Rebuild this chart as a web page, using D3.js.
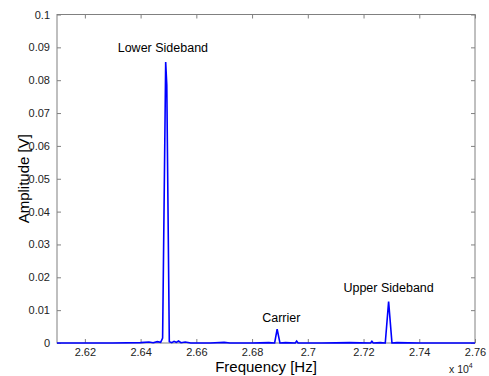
<!DOCTYPE html>
<html><head><meta charset="utf-8">
<script src="https://cdn.jsdelivr.net/npm/d3@7"></script>
<style>
body{margin:0;background:#fff;}
text{font-family:"Liberation Sans",Arial,sans-serif;}
</style></head>
<body><svg id="c" width="489" height="376"></svg>
<script>
const freq = [26100,26300,26400,26430,26445,26460,26472,26479,26490,26494,26503,26512,26520,26528,26536,26545,26560,26580,26650,26700,26720,26800,26860,26881,26890,26900,26920,26955,26960,26965,27050,27150,27225,27230,27235,27260,27278,27290,27302,27320,27400,27500,27600];
const amp  = [0,0,0.0001,0.0003,0.0001,0.0004,0.0002,0.0015,0.0855,0.0785,0.0004,0.0001,0.0005,0.0002,0.0006,0.0001,0.0003,0,0,0.0002,0,0,0.0001,0,0.0042,0,0.0001,0,0.0006,0,0,0.0001,0,0.0005,0,0.0001,0,0.0126,0,0.0001,0,0,0];
const xTicks = [26200,26400,26600,26800,27000,27200,27400,27600];
const xTickLabels = ["2.62","2.64","2.66","2.68","2.7","2.72","2.74","2.76"];
const yTicks = [0,0.01,0.02,0.03,0.04,0.05,0.06,0.07,0.08,0.09,0.1];
const yTickLabels = ["0","0.01","0.02","0.03","0.04","0.05","0.06","0.07","0.08","0.09","0.1"];
const annotations = [
  {text:"Lower Sideband", f:26480, a:0.0855},
  {text:"Carrier", f:26905, a:0.0042},
  {text:"Upper Sideband", f:27290, a:0.0126}
];

const L=57, R=475, T=14.5, B=343;
const svg = d3.select("#c");
const x = d3.scaleLinear().domain([26100,27600]).range([L,R]);
const y = d3.scaleLinear().domain([0,0.1]).range([B,T]);
const axisCol = "#808080";

svg.append("rect").attr("x",L).attr("y",T).attr("width",R-L).attr("height",B-T)
  .attr("fill","#fff").attr("stroke",axisCol).attr("stroke-width",1);

const fmtX = d => xTickLabels[xTicks.indexOf(d)];
const fmtY = d => yTickLabels[yTicks.indexOf(d)];

const styleAxis = g => {
  g.select(".domain").remove();
  g.selectAll(".tick line").attr("stroke",axisCol);
  g.selectAll(".tick text").attr("fill","#222").style("font-size","11px").style("font-family","'Liberation Sans',Arial,sans-serif");
};
svg.append("g").attr("transform",`translate(0,${B})`)
  .call(d3.axisBottom(x).tickValues(xTicks).tickFormat(fmtX).tickSizeInner(-4).tickSizeOuter(0).tickPadding(5))
  .call(styleAxis);
svg.append("g").attr("transform",`translate(0,${T})`)
  .call(d3.axisTop(x).tickValues(xTicks).tickFormat("").tickSizeInner(-4).tickSizeOuter(0))
  .call(styleAxis);
svg.append("g").attr("transform",`translate(${L},0)`)
  .call(d3.axisLeft(y).tickValues(yTicks).tickFormat(fmtY).tickSizeInner(-4).tickSizeOuter(0).tickPadding(7))
  .call(styleAxis);
svg.append("g").attr("transform",`translate(${R},0)`)
  .call(d3.axisRight(y).tickValues(yTicks).tickFormat("").tickSizeInner(-4).tickSizeOuter(0))
  .call(styleAxis);

const pts = freq.map((f,i)=>[f,amp[i]]);
svg.append("path").datum(pts)
  .attr("fill","none").attr("stroke","#0000ff").attr("stroke-width",1.6)
  .attr("stroke-linejoin","miter")
  .attr("d", d3.line().x(d=>x(d[0])).y(d=>y(d[1])));

const annOff = [10, 7, 10];
annotations.forEach((a,i)=>{
  svg.append("text").attr("x",x(a.f)).attr("y",y(a.a)-annOff[i])
    .attr("text-anchor","middle").style("font-size","12.5px").attr("fill","#000").text(a.text);
});

svg.append("text").attr("x",266).attr("y",371.5).attr("text-anchor","middle")
  .style("font-size","15px").attr("fill","#000").text("Frequency [Hz]");
svg.append("text").attr("transform",`translate(29,${(T+B)/2}) rotate(-90)`).attr("text-anchor","middle")
  .style("font-size","15px").attr("fill","#000").text("Amplitude [V]");

const ex = svg.append("text").attr("x",449).attr("y",373).style("font-size","10.5px").attr("fill","#222");
ex.append("tspan").text("x 10");
ex.append("tspan").attr("dy",-5).style("font-size","7px").text("4");
</script></body></html>
